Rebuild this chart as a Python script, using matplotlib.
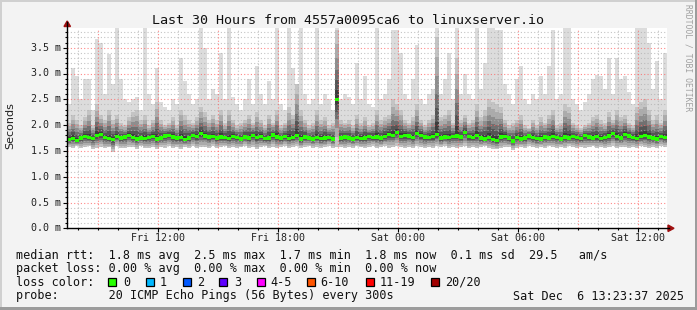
import numpy as np
import matplotlib
matplotlib.use('Agg')
import matplotlib.pyplot as plt
from matplotlib.patches import Rectangle, Polygon
from matplotlib.lines import Line2D

# ---------------- data (ms) ----------------
start_hour = 7.435      # Fri 07:26 (hours since Fri 00:00)
step_hours = 0.2
span_hours = 30

median_ms = [1.72, 1.74, 1.70, 1.75, 1.78, 1.76, 1.74, 1.80, 1.82, 1.76,
             1.74, 1.72, 1.78, 1.75, 1.77, 1.80, 1.76, 1.73, 1.75, 1.74,
             1.76, 1.78, 1.73, 1.75, 1.79, 1.80, 1.77, 1.75, 1.76, 1.72,
             1.75, 1.80, 1.78, 1.83, 1.79, 1.77, 1.78, 1.75, 1.77, 1.76,
             1.74, 1.78, 1.76, 1.73, 1.77, 1.75, 1.80, 1.76, 1.78, 1.74,
             1.75, 1.81, 1.77, 1.75, 1.78, 1.74, 1.76, 1.80, 1.73, 1.77,
             1.75, 1.73, 1.76, 1.74, 1.75, 1.76, 1.73, 2.50, 1.75, 1.77,
             1.75, 1.73, 1.76, 1.74, 1.75, 1.78, 1.76, 1.77, 1.75, 1.78,
             1.82, 1.80, 1.86, 1.78, 1.80, 1.79, 1.76, 1.83, 1.80, 1.77,
             1.76, 1.78, 1.82, 1.75, 1.77, 1.76, 1.78, 1.79, 1.77, 1.86,
             1.78, 1.76, 1.80, 1.75, 1.73, 1.76, 1.72, 1.70, 1.77, 1.78,
             1.75, 1.69, 1.76, 1.73, 1.75, 1.79, 1.76, 1.74, 1.73, 1.77,
             1.75, 1.78, 1.76, 1.73, 1.77, 1.75, 1.78, 1.76, 1.74, 1.80,
             1.77, 1.75, 1.78, 1.74, 1.76, 1.79, 1.84, 1.78, 1.75, 1.82,
             1.79, 1.76, 1.74, 1.78, 1.80, 1.77, 1.75, 1.73, 1.78, 1.76]

max_ms = [2.40, 3.10, 2.96, 2.50, 2.90, 2.90, 2.30, 3.67, 3.60, 2.60,
          3.38, 2.80, 3.90, 2.90, 2.50, 2.45, 2.50, 2.55, 2.30, 3.90,
          2.60, 2.40, 3.10, 2.45, 2.35, 2.30, 2.50, 2.40, 3.30, 2.85,
          2.60, 2.40, 2.50, 3.90, 3.50, 2.50, 2.70, 2.60, 3.40, 2.50,
          3.90, 2.55, 2.40, 2.30, 2.50, 2.90, 2.40, 3.15, 2.60, 2.40,
          2.85, 2.50, 3.90, 2.40, 2.30, 3.90, 3.10, 2.80, 3.90, 2.60,
          2.40, 2.50, 3.90, 2.40, 2.60, 2.50, 2.30, 3.90, 2.50, 2.60,
          2.55, 2.40, 3.20, 2.50, 2.95, 2.40, 2.35, 3.90, 2.50, 2.60,
          2.90, 3.85, 3.85, 3.40, 2.60, 2.50, 2.90, 3.55, 2.50, 2.40,
          2.60, 2.70, 3.90, 2.60, 2.90, 3.40, 2.50, 3.90, 2.60, 3.00,
          2.60, 2.50, 3.90, 2.70, 3.20, 3.90, 3.90, 3.85, 3.85, 2.80,
          2.60, 2.40, 2.90, 3.15, 2.50, 2.40, 2.60, 2.50, 2.95, 2.60,
          3.15, 3.85, 2.50, 2.60, 3.90, 3.90, 2.50, 2.40, 2.30, 2.45,
          2.60, 2.90, 2.97, 2.95, 2.70, 3.30, 2.60, 3.30, 2.90, 2.95,
          2.65, 2.40, 3.90, 3.90, 3.90, 3.60, 2.70, 3.25, 2.50, 3.40]

upper_ms = [2.05, 2.20, 2.10, 2.00, 2.15, 2.30, 2.00, 2.40, 2.20, 2.10,
            2.30, 2.10, 2.20, 2.05, 2.00, 2.15, 2.25, 2.30, 2.10, 2.20,
            2.00, 2.10, 2.45, 2.10, 2.00, 2.05, 2.15, 2.00, 2.30, 2.20,
            2.10, 2.05, 2.15, 2.35, 2.25, 2.10, 2.20, 2.10, 2.30, 2.05,
            2.30, 2.10, 2.00, 2.05, 2.10, 2.20, 2.05, 2.25, 2.10, 2.00,
            2.20, 2.05, 2.30, 2.00, 2.05, 2.35, 2.20, 2.80, 2.30, 2.10,
            2.00, 2.05, 2.30, 2.10, 2.15, 2.00, 2.05, 3.85, 2.10, 2.05,
            2.10, 2.00, 2.20, 2.05, 2.15, 2.00, 2.05, 2.30, 2.10, 2.15,
            2.20, 2.50, 2.40, 2.30, 2.10, 2.05, 2.15, 2.40, 2.10, 2.00,
            2.10, 2.20, 3.70, 2.15, 2.20, 2.30, 2.05, 3.30, 2.10, 2.20,
            2.05, 2.10, 2.40, 2.15, 2.30, 2.50, 2.45, 2.40, 2.35, 2.10,
            2.00, 2.05, 2.10, 2.20, 2.00, 1.95, 2.10, 2.00, 2.15, 2.05,
            2.20, 2.30, 2.00, 2.05, 2.40, 2.35, 2.05, 2.00, 1.95, 2.00,
            2.05, 2.15, 2.20, 2.10, 2.05, 2.25, 2.10, 2.30, 2.15, 2.20,
            2.05, 2.00, 2.35, 2.45, 2.50, 2.30, 2.10, 2.20, 2.05, 2.30]

min_ms = [1.58, 1.56, 1.60, 1.55, 1.57, 1.59, 1.54, 1.56, 1.58, 1.55,
          1.57, 1.48, 1.60, 1.56, 1.55, 1.58, 1.57, 1.54, 1.59, 1.56,
          1.55, 1.57, 1.53, 1.58, 1.56, 1.60, 1.55, 1.57, 1.54, 1.58,
          1.56, 1.59, 1.55, 1.57, 1.58, 1.56, 1.60, 1.55, 1.57, 1.59,
          1.56, 1.58, 1.55, 1.57, 1.60, 1.56, 1.58, 1.54, 1.57, 1.59,
          1.56, 1.58, 1.55, 1.57, 1.59, 1.56, 1.58, 1.60, 1.55, 1.57,
          1.59, 1.56, 1.58, 1.55, 1.57, 1.60, 1.56, 1.58, 1.57, 1.55,
          1.58, 1.56, 1.59, 1.57, 1.55, 1.58, 1.60, 1.56, 1.57, 1.59,
          1.56, 1.58, 1.60, 1.57, 1.55, 1.58, 1.56, 1.59, 1.57, 1.55,
          1.58, 1.56, 1.59, 1.57, 1.60, 1.56, 1.58, 1.55, 1.57, 1.59,
          1.56, 1.58, 1.55, 1.57, 1.59, 1.56, 1.54, 1.53, 1.56, 1.58,
          1.57, 1.52, 1.55, 1.58, 1.56, 1.59, 1.57, 1.55, 1.58, 1.56,
          1.59, 1.57, 1.55, 1.58, 1.56, 1.60, 1.57, 1.55, 1.58, 1.56,
          1.57, 1.59, 1.56, 1.58, 1.55, 1.57, 1.60, 1.56, 1.58, 1.57,
          1.55, 1.58, 1.56, 1.59, 1.57, 1.55, 1.58, 1.56, 1.60, 1.57]

y_major = [0.0, 0.5, 1.0, 1.5, 2.0, 2.5, 3.0, 3.5]
y_minor_step = 0.1
x_label_hours = [12, 18, 24, 30, 36]
x_labels = ['Fri 12:00', 'Fri 18:00', 'Sat 00:00', 'Sat 06:00', 'Sat 12:00']

title = 'Last 30 Hours from 4557a0095ca6 to linuxserver.io'
legend_lines = [
    'median rtt:  1.8 ms avg  2.5 ms max  1.7 ms min  1.8 ms now  0.1 ms sd  29.5   am/s',
    'packet loss: 0.00 % avg  0.00 % max  0.00 % min  0.00 % now',
]
loss_labels = ['0', '1', '2', '3', '4-5', '6-10', '11-19', '20/20']
loss_colors = ['#26ff00', '#00b8ff', '#0059ff', '#5e00ff', '#ff00ff', '#ff5500', '#ff0000', '#a10000']
probe_text = 'probe:       20 ICMP Echo Pings (56 Bytes) every 300s'
date_text = 'Sat Dec  6 13:23:37 2025'

# ---------------- figure ----------------
W, H = 697, 310
fig = plt.figure(figsize=(W / 100, H / 100), dpi=100, facecolor='#f3f3f3')
MONO = 'DejaVu Sans Mono'


def fx(x):
    return x / W


def fy(y):
    return 1 - y / H


PX_PER_MS = 51.6
ax_left, ax_right, ax_top, ax_bot = 67, 667, 27.7, 228.3
ax = fig.add_axes([fx(ax_left), fy(ax_bot), (ax_right - ax_left) / W, (ax_bot - ax_top) / H])
y_top = (ax_bot - ax_top) / PX_PER_MS
ax.set_xlim(start_hour, start_hour + span_hours)
ax.set_ylim(0, y_top)
ax.set_facecolor('white')
for s in ax.spines.values():
    s.set_visible(False)

med = np.array(median_ms)
hi = np.array(max_ms)
up = np.array(upper_ms)
lo = np.array(min_ms)
edges = start_hour + step_hours * np.arange(len(med) + 1)

# smoke
ax.stairs(hi, edges, baseline=lo, fill=True, color='#dcdcdc', lw=0, zorder=1)
levels = [(1.0, '#c4c4c4'), (0.8, '#ababab'), (0.6, '#8e8e8e'),
          (0.42, '#707070'), (0.27, '#555555'), (0.13, '#3c3c3c')]
for f, c in levels:
    lower = med - f * (med - lo)
    upper = med + f * (up - med)
    ax.stairs(upper, edges, baseline=lower, fill=True, color=c, lw=0, zorder=2)

# grid
yv = np.round(np.arange(0, y_top, y_minor_step), 2)
for v in yv:
    if v == 0:
        continue
    major = any(abs(v - m) < 1e-6 for m in y_major)
    if major:
        ax.axhline(v, color='#ff6060', lw=0.8, ls=(0, (1, 2)), alpha=0.75, zorder=4)
    else:
        ax.axhline(v, color='#b0b0b0', lw=0.8, ls=(0, (1, 2)), alpha=0.75, zorder=4)
for h in range(int(np.ceil(start_hour)), int(start_hour + span_hours) + 1):
    if h % 3 == 0:
        ax.axvline(h, color='#ff6060', lw=0.8, ls=(0, (1, 2)), alpha=0.75, zorder=4)
    else:
        ax.axvline(h, color='#b0b0b0', lw=0.8, ls=(0, (1, 2)), alpha=0.75, zorder=4)

# median drawn as a thin band per step (smokeping style)
half_band = 1.6 / PX_PER_MS
ax.stairs(med + half_band, edges, baseline=med - half_band, fill=True,
          color='#26ff00', lw=0, zorder=6)

# ticks
ax.set_xticks(x_label_hours)
ax.set_xticklabels([])
ax.set_xticks(range(int(np.ceil(start_hour)), int(start_hour + span_hours) + 1), minor=True)
ax.set_yticks(y_major)
ax.set_yticklabels([])
ax.set_yticks(yv, minor=True)
ax.tick_params(which='major', length=3, width=0.8, color='black', direction='out')
ax.tick_params(which='minor', length=1.5, width=0.8, color='black', direction='out')

# axis lines + arrows
fig.add_artist(Line2D([fx(ax_left), fx(ax_left)], [fy(ax_bot), fy(22)], color='black', lw=1))
fig.add_artist(Line2D([fx(ax_left), fx(669)], [fy(ax_bot), fy(ax_bot)], color='black', lw=1))
fig.add_artist(Polygon([[fx(64), fy(26.5)], [fx(70.5), fy(26.5)], [fx(67.2), fy(21)]],
                       closed=True, color='#a01010', transform=fig.transFigure))
fig.add_artist(Polygon([[fx(668), fy(225)], [fx(668), fy(231.5)], [fx(674), fy(228.3)]],
                       closed=True, color='#a01010', transform=fig.transFigure))

# tick labels
for v in y_major:
    ypix = ax_bot - v * PX_PER_MS
    fig.text(fx(61), fy(ypix), f'{v:.1f} m', ha='right', va='center',
             family=MONO, fontsize=7.2, color='#222222')
for h, lab in zip(x_label_hours, x_labels):
    xpix = ax_left + (h - start_hour) * 20
    fig.text(fx(xpix), fy(241), lab, ha='center', va='baseline',
             family=MONO, fontsize=7.2, color='#222222')

# title and axis label
fig.text(fx(348), fy(24), title, ha='center', va='baseline', family=MONO,
         fontsize=9.6, color='#111111')
fig.text(fx(10), fy(126), 'Seconds', rotation=90, ha='center', va='center',
         family='DejaVu Sans', fontsize=8, color='#222222')
fig.text(fx(688), fy(4), 'RRDTOOL / TOBI OETIKER', rotation=270, ha='center', va='top',
         family=MONO, fontsize=5.8, color='#a0a0a0')

# legend
fig.text(fx(16), fy(258.5), legend_lines[0], ha='left', va='baseline', family=MONO,
         fontsize=8.5, color='#111111')
fig.text(fx(16), fy(272), legend_lines[1], ha='left', va='baseline', family=MONO,
         fontsize=8.5, color='#111111')
fig.text(fx(16), fy(285.5), 'loss color:', ha='left', va='baseline', family=MONO,
         fontsize=8.5, color='#111111')
sq_x = [108, 146, 183, 219, 257, 307, 366, 431]
lab_x = [123, 160, 197, 234, 270, 320, 380, 445]
for sx, lx, lab, col in zip(sq_x, lab_x, loss_labels, loss_colors):
    fig.add_artist(Rectangle((fx(sx), fy(286)), 8 / W, 8 / H, transform=fig.transFigure,
                             facecolor=col, edgecolor='black', lw=0.9))
    fig.text(fx(lx), fy(285.5), lab, ha='left', va='baseline', family=MONO,
             fontsize=8.5, color='#111111')
fig.text(fx(16), fy(299.5), probe_text, ha='left', va='baseline', family=MONO,
         fontsize=8.5, color='#111111')
fig.text(fx(513), fy(299.5), date_text, ha='left', va='baseline', family=MONO,
         fontsize=8.5, color='#111111')

# frame
fig.add_artist(Rectangle((0, fy(2)), 1, 2 / H, transform=fig.transFigure, color='#d0d0d0', lw=0))
fig.add_artist(Rectangle((0, 0), 2 / W, 1, transform=fig.transFigure, color='#d0d0d0', lw=0))
fig.add_artist(Rectangle((0, 0), 1, 3 / H, transform=fig.transFigure, color='#9c9c9c', lw=0))
fig.add_artist(Rectangle((fx(695), 0), 2 / W, 1, transform=fig.transFigure, color='#9c9c9c', lw=0))

fig.savefig('out.png', dpi=100, facecolor=fig.get_facecolor())
